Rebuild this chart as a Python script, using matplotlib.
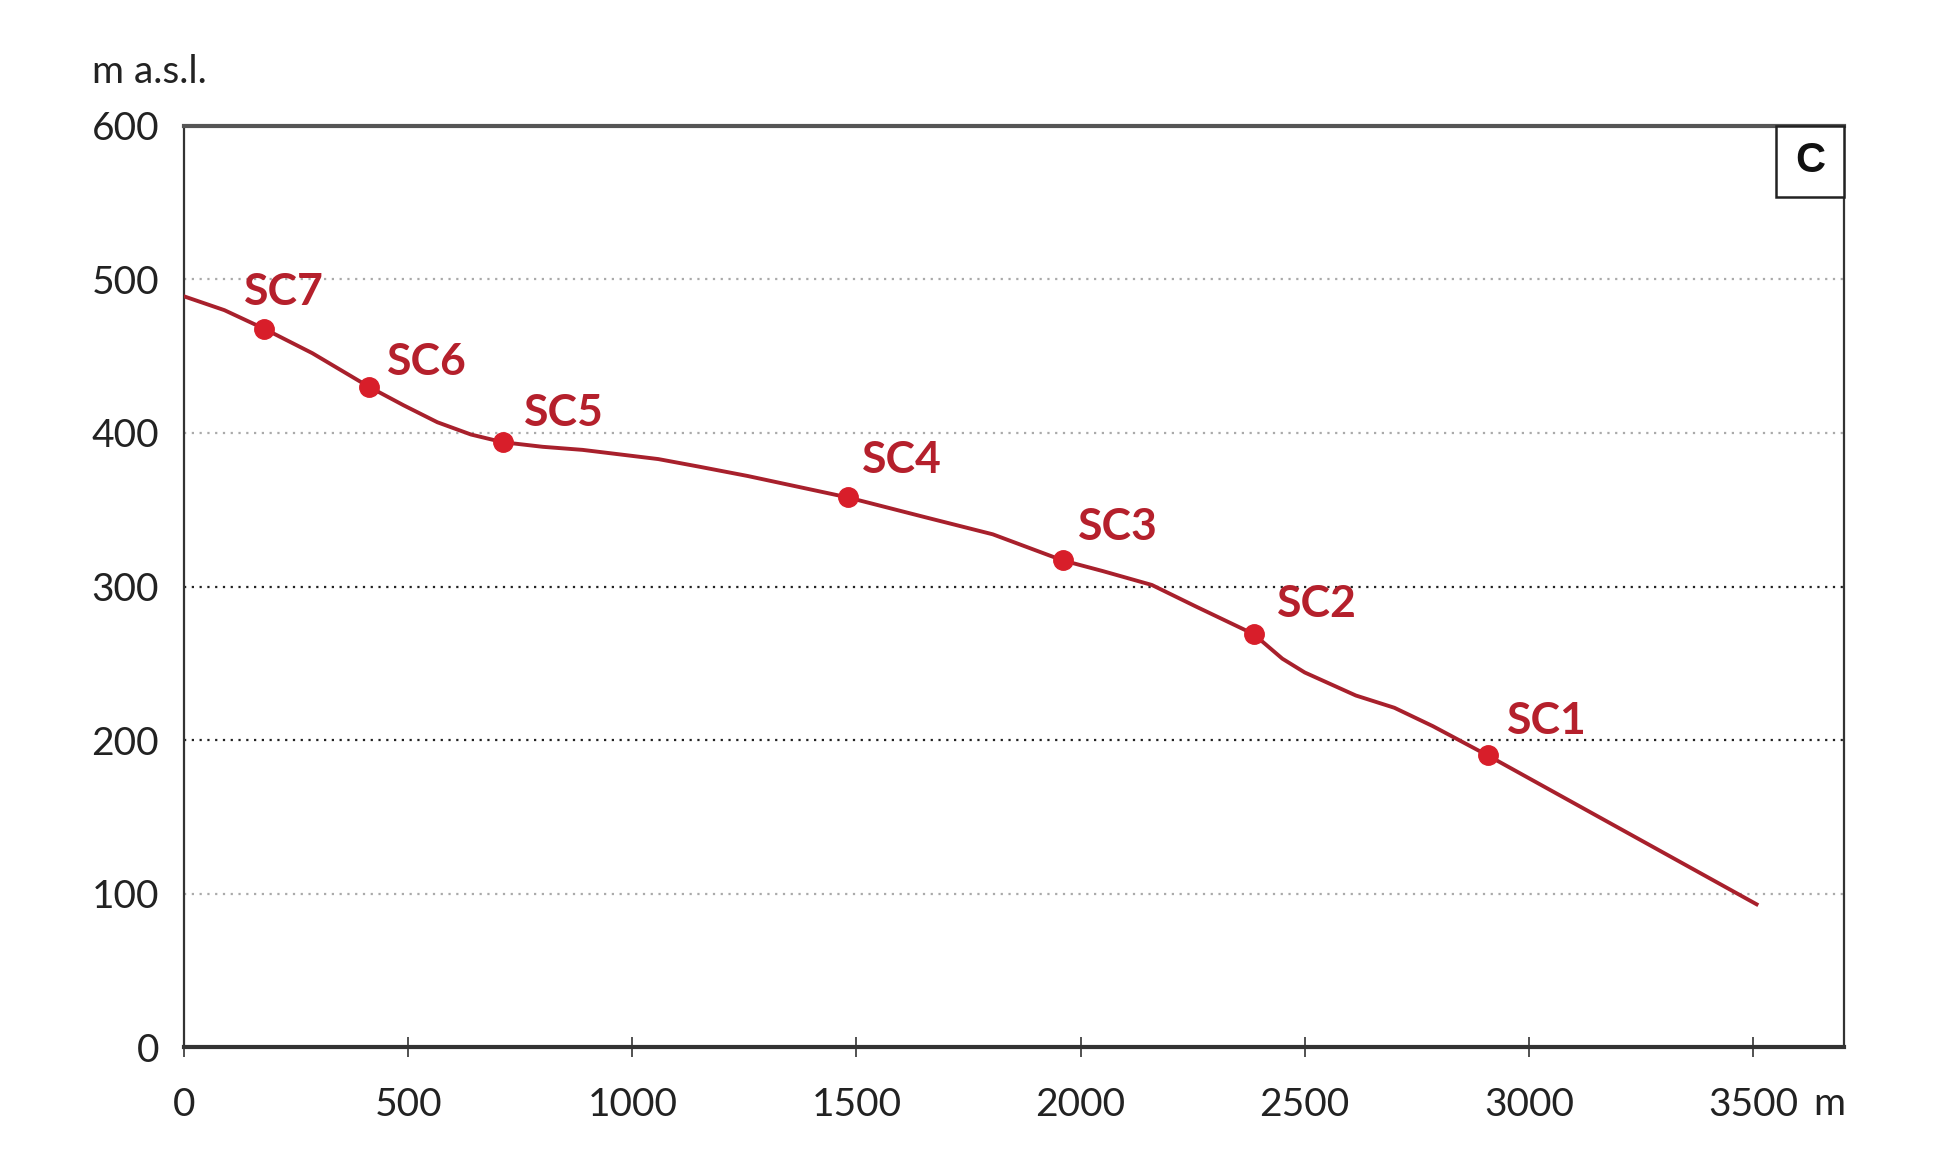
import matplotlib.pyplot as plt
from matplotlib.patches import Rectangle

# longitudinal profile (distance m, elevation m a.s.l.)
profile_x = [0, 90, 178, 286, 413, 490, 565, 640, 711, 800, 889, 1058, 1150,
             1257, 1481, 1655, 1804, 1960, 2050, 2159, 2257, 2386, 2450, 2500,
             2614, 2700, 2786, 2908, 3508]
profile_y = [489, 480, 468, 452, 430, 418, 407, 399, 394, 391, 389, 383, 378,
             372, 358, 345, 334, 317, 310, 301, 287, 269, 253, 244,
             229, 221, 209, 190, 93]

sites = ['SC7', 'SC6', 'SC5', 'SC4', 'SC3', 'SC2', 'SC1']
site_x = [178, 413, 711, 1481, 1960, 2386, 2908]
site_y = [468, 430, 394, 358, 317, 269, 190]
# label offsets in points
label_dx = [-14, 13, 15, 10, 11, 17, 14]
label_dy = [26, 18, 21, 27, 24, 22, 25]

x_ticks = [0, 500, 1000, 1500, 2000, 2500, 3000, 3500]
y_ticks = [0, 100, 200, 300, 400, 500, 600]

txt_font = ['Lato', 'DejaVu Sans']

fig = plt.figure(figsize=(19.54, 11.63), dpi=100)
ax = fig.add_axes([0.0942, 0.0997, 0.8495, 0.792])

# grid lines, 200 and 300 darker than the others
for y in y_ticks[1:-1]:
    col = '#222222' if y in (200, 300) else '#aaaaaa'
    ax.axhline(y, color=col, linestyle=(0, (1, 2.5)), linewidth=1.6, zorder=1)

ax.plot(profile_x, profile_y, color='#a8202c', linewidth=2.8, zorder=3,
        solid_joinstyle='round')
ax.plot(site_x, site_y, 'o', color='#d81e2a', markersize=14, zorder=4)

for name, sx, sy, dx, dy in zip(sites, site_x, site_y, label_dx, label_dy):
    ax.annotate(name, (sx, sy), xytext=(dx, dy), textcoords='offset points',
                ha='left', va='center', fontsize=32, fontweight='bold',
                color='#b5202c', family=txt_font, zorder=5)

ax.set_xlim(0, 3703)
ax.set_ylim(0, 600)
ax.set_xticks(x_ticks)
ax.set_xticklabels([str(t) for t in x_ticks])
ax.set_yticks(y_ticks)
ax.set_yticklabels([str(t) for t in y_ticks])
ax.tick_params(axis='x', direction='inout', length=14, width=1.2,
               color='#333333', pad=22, labelsize=28, labelcolor='#222222')
ax.tick_params(axis='y', length=0, pad=18, labelsize=28, labelcolor='#222222')
for lab in ax.get_xticklabels() + ax.get_yticklabels():
    lab.set_family(txt_font)

for side in ['left', 'right', 'bottom']:
    ax.spines[side].set_color('#333333')
    ax.spines[side].set_linewidth(1.6)
ax.spines['bottom'].set_linewidth(3)
ax.spines['top'].set_color('#555555')
ax.spines['top'].set_linewidth(3)

# unit after the last x tick label
ax.text(3635, -0.062, 'm', transform=ax.get_xaxis_transform(), ha='left',
        va='center', fontsize=28, color='#222222', family=txt_font)
# y unit label
fig.text(0.047, 0.938, 'm a.s.l.', ha='left', va='center', fontsize=28,
         color='#222222', family=txt_font)

# panel letter box
ax.add_patch(Rectangle((0.959, 0.923), 0.041, 0.077, transform=ax.transAxes,
                       facecolor='white', edgecolor='#222222', linewidth=1.8,
                       zorder=6, clip_on=False))
ax.text(0.9795, 0.9615, 'C', transform=ax.transAxes, ha='center', va='center',
        fontsize=30, fontweight='bold', color='#111111', zorder=7,
        family=['Liberation Sans', 'DejaVu Sans'])

fig.savefig('out.png', dpi=100, facecolor='white')
